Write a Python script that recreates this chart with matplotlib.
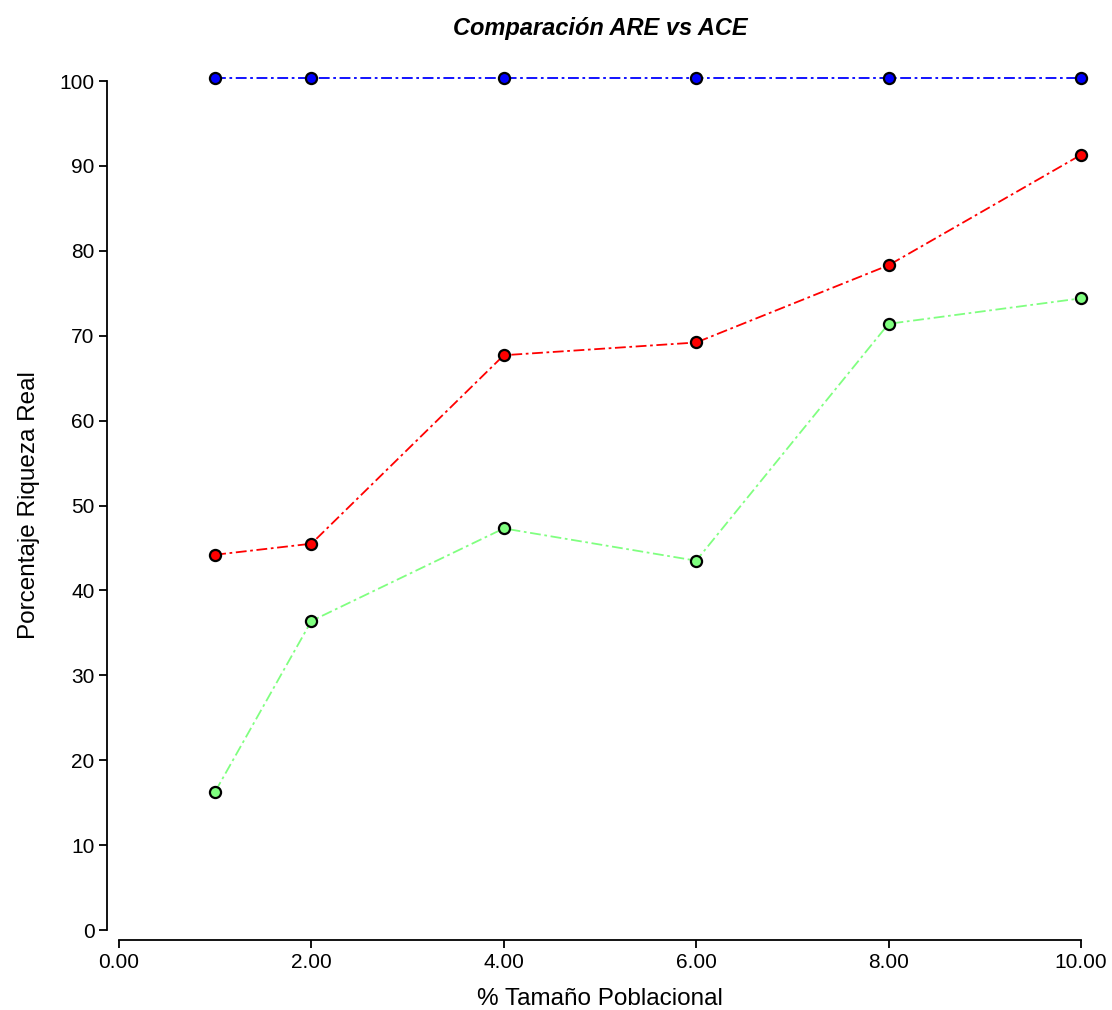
import matplotlib
matplotlib.use('Agg')
import matplotlib.pyplot as plt

plt.rcParams['font.family'] = ['Liberation Sans', 'DejaVu Sans']

# Datos
tamano = [1, 2, 4, 6, 8, 10]
serie_azul = [100.3, 100.3, 100.3, 100.3, 100.3, 100.3]
serie_roja = [44.2, 45.5, 67.7, 69.2, 78.3, 91.3]
serie_verde = [16.3, 36.4, 47.3, 43.5, 71.4, 74.4]
xticks = [0, 2, 4, 6, 8, 10]
xtick_labels = ['0.00', '2.00', '4.00', '6.00', '8.00', '10.00']
yticks = [0, 10, 20, 30, 40, 50, 60, 70, 80, 90, 100]

fig = plt.figure(figsize=(11.12, 10.10), dpi=100, facecolor='white')
ax = fig.add_axes([119/1112, 80/1010, (1081-119)/1112, (930-81)/1010])

for ys, col in [(serie_azul, '#0000ff'), (serie_roja, '#ff0000'), (serie_verde, '#80ff80')]:
    ax.plot(tamano, ys, linestyle=(0, (6, 2, 1.5, 2)), color=col, lw=1.3,
            marker='o', markersize=8, markerfacecolor=col,
            markeredgecolor='black', markeredgewidth=1.6, clip_on=False, zorder=3)

ax.set_xlim(0, 10)
ax.set_ylim(0, 100)
ax.set_xticks(xticks)
ax.set_xticklabels(xtick_labels)
ax.set_yticks(yticks)

for s in ['top', 'right']:
    ax.spines[s].set_visible(False)
ax.spines['left'].set_position(('outward', 8.6))
ax.spines['bottom'].set_position(('outward', 7.2))
ax.spines['left'].set_bounds(0, 100)
ax.spines['bottom'].set_bounds(0, 10)
for s in ['left', 'bottom']:
    ax.spines[s].set_linewidth(1.3)
ax.tick_params(direction='out', length=6, width=1.3, labelsize=15, pad=3)

ax.set_title('Comparación ARE vs ACE', fontsize=17, fontweight='bold',
             fontstyle='italic', pad=33)
ax.set_xlabel('% Tamaño Poblacional', fontsize=17.5, labelpad=12)
ax.set_ylabel('Porcentaje Riqueza Real', fontsize=17.5, labelpad=14)

fig.savefig('out.png', dpi=100, facecolor='white')
